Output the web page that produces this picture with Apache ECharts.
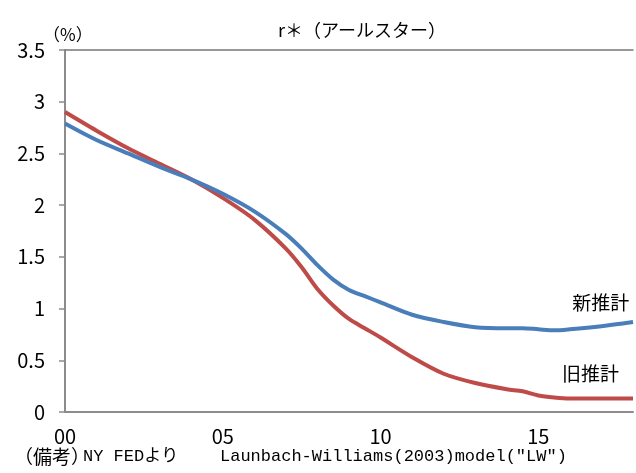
<!DOCTYPE html>
<html><head><meta charset="utf-8">
<script src="https://cdn.jsdelivr.net/npm/echarts@6/dist/echarts.min.js"></script>
<style>html,body{margin:0;padding:0;background:#fff}#c{width:636px;height:473px}</style>
</head><body><div id="c"></div>
<script>
const years = [2000,2001,2002,2003,2004,2005,2006,2007,2007.5,2008,2008.5,2009,2009.5,2010,2011,2012,2013,2014,2014.5,2015,2015.5,2016,2017,2018];
const newEstimate = [2.79,2.63,2.50,2.37,2.25,2.11,1.94,1.72,1.58,1.42,1.28,1.18,1.12,1.06,0.94,0.87,0.82,0.81,0.81,0.80,0.79,0.80,0.83,0.87];
const oldEstimate = [2.90,2.72,2.55,2.40,2.25,2.07,1.86,1.58,1.40,1.19,1.03,0.90,0.81,0.72,0.53,0.37,0.28,0.22,0.20,0.16,0.14,0.13,0.13,0.13];
const yTicks = [0,0.5,1,1.5,2,2.5,3,3.5];
const seriesNames = ['新推計','旧推計'];
const labelPos = {新推計:[2016.98,1.06], 旧推計:[2016.65,0.37]};

const narrow = "'Liberation Sans Narrow','Noto Sans CJK JP'";
const cjk = "'Noto Sans CJK JP'";
const chart = echarts.init(document.getElementById('c'));
function pts(v){return years.map((y,i)=>[y,v[i]]);}
function mk(name){return {symbol:'circle',symbolSize:1,silent:true,itemStyle:{color:'rgba(0,0,0,0)'},
  data:[{coord:labelPos[name],value:name}],
  label:{show:true,position:'inside',formatter:name,color:'#000',fontFamily:cjk,fontSize:19}};}
chart.setOption({
  animation:false,
  title:{text:'r＊（アールスター）',left:357,textAlign:'center',top:16,
    textStyle:{fontFamily:cjk,fontSize:18,fontWeight:'normal',color:'#000'}},
  grid:{left:65,right:0,top:50,bottom:61},
  xAxis:[{type:'value',min:2000,max:2018,interval:5,
    axisLine:{show:true,onZero:false,lineStyle:{color:'#8c8c8c',width:2}},
    axisTick:{show:false},splitLine:{show:false},
    axisLabel:{margin:14,fontFamily:narrow,fontSize:20,color:'#000',
      formatter:v=>((v-2000)%5===0?String(v-2000).padStart(2,'0'):'')}},
   {type:'value',position:'top',min:2000,max:2018,
    axisLine:{show:true,onZero:false,lineStyle:{color:'#777',width:1.5}},
    axisTick:{show:false},axisLabel:{show:false},splitLine:{show:false}}],
  yAxis:{type:'value',min:0,max:3.5,interval:0.5,
    axisLine:{show:true,lineStyle:{color:'#8c8c8c',width:2}},
    axisTick:{show:true,inside:false,length:6,lineStyle:{color:'#8c8c8c',width:1.5}},
    splitLine:{show:false},
    axisLabel:{margin:20,fontFamily:narrow,fontSize:20,color:'#000',
      formatter:v=>(yTicks.includes(v)?String(v):'')}},
  series:[
    {name:seriesNames[0],type:'line',data:pts(newEstimate),smooth:0.3,symbol:'none',
     lineStyle:{color:'#4a7ebb',width:4},z:3,markPoint:mk(seriesNames[0])},
    {name:seriesNames[1],type:'line',data:pts(oldEstimate),smooth:0.3,symbol:'none',
     lineStyle:{color:'#be4b48',width:4},z:2,markPoint:mk(seriesNames[1])}
  ],
  graphic:[
    {type:'text',left:43,top:26,style:{text:'（%）',font:"17px 'Noto Sans CJK JP'",fill:'#000'}},
    {type:'text',left:14,top:447,style:{text:'（備考）',font:"19px 'Noto Sans CJK JP'",fill:'#000'}},
    {type:'text',left:83,top:448,style:{text:'NY FEDより',font:"17px 'Liberation Mono','Noto Sans CJK JP'",fill:'#000'}},
    {type:'text',left:220,top:448,style:{text:'Launbach-Williams(2003)model("LW")',font:"17px 'Liberation Mono'",fill:'#000'}}
  ]
});
</script></body></html>
